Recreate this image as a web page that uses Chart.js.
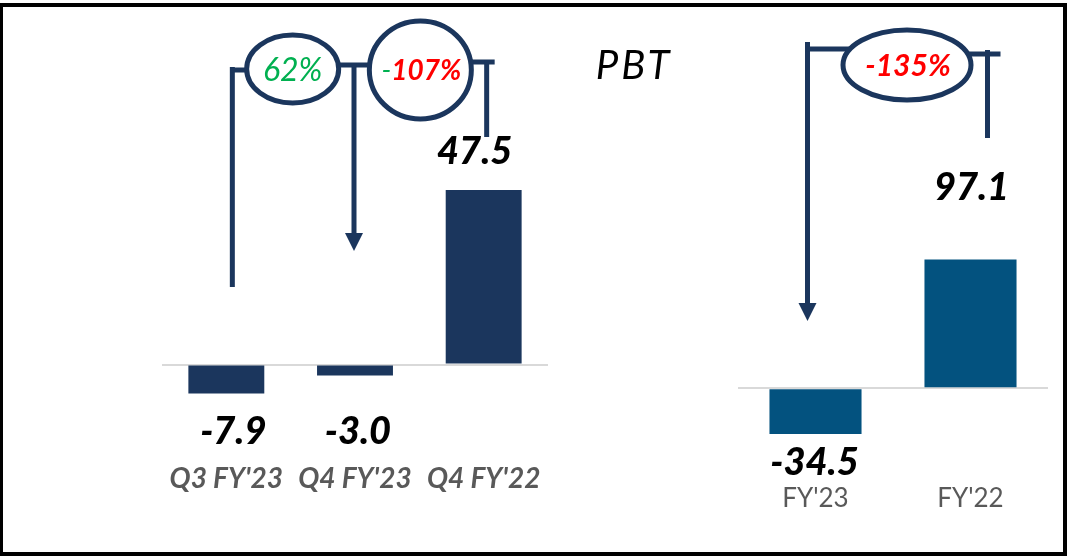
<!DOCTYPE html>
<html>
<head>
<meta charset="utf-8">
<script src="https://cdn.jsdelivr.net/npm/chart.js@4.4.0/dist/chart.umd.min.js"></script>
<style>
html, body { margin: 0; padding: 0; background: #fff; }
#wrap { position: relative; width: 1072px; height: 556px; overflow: hidden; }
#wrap canvas { position: absolute; left: 0; top: 0; }
#frame { position: absolute; left: 0; top: 3px; width: 1067px; height: 553px; box-sizing: border-box;
  border: 4px solid #000; border-left-width: 3px; pointer-events: none; }
#ttl { position: absolute; left: 534px; width: 200px; top: 40px; text-align: center;
  font: italic 400 40px Lato, sans-serif; letter-spacing: 3px; color: #000; }
</style>
</head>
<body>
<div id="wrap">
  <canvas id="qChart" width="1072" height="556"></canvas>
  <canvas id="fyChart" width="1072" height="556"></canvas>
  <div id="ttl"></div>
  <div id="frame"></div>
</div>
<script>
// data
const titleText = 'PBT';
const qLabels = ["Q3 FY'23", "Q4 FY'23", "Q4 FY'22"];
const qPbt = [-7.9, -3.0, 47.5];
const qChange = ['62%', '-107%'];
const fyLabels = ["FY'23", "FY'22"];
const fyPbt = [-34.5, 97.1];
const fyChange = ['-135%'];

const NAVY = '#1B365D';
const BLUE = '#03527F';
const GREEN = '#00B050';
const RED = '#FF0000';
const GRAY = '#595959';
const FONT = 'Lato, sans-serif';

document.getElementById('ttl').textContent = titleText;

function line(ctx, x1, y1, x2, y2) {
  ctx.beginPath();
  ctx.moveTo(x1, y1);
  ctx.lineTo(x2, y2);
  ctx.stroke();
}

function arrowDown(ctx, x, yTop, yTip) {
  line(ctx, x, yTop, x, yTip - 16);
  ctx.beginPath();
  ctx.moveTo(x - 9, yTip - 18);
  ctx.lineTo(x + 9, yTip - 18);
  ctx.lineTo(x, yTip);
  ctx.closePath();
  ctx.fill();
}

function oval(ctx, cx, cy, rx, ry) {
  ctx.beginPath();
  ctx.ellipse(cx, cy, rx, ry, 0, 0, Math.PI * 2);
  ctx.fillStyle = '#fff';
  ctx.fill();
  ctx.stroke();
  ctx.fillStyle = NAVY;
}

// parts: [text, color, font]
function badgeText(ctx, parts, cx, cy) {
  let total = 0;
  parts.forEach(p => { ctx.font = p[2]; total += ctx.measureText(p[0]).width; });
  let x = cx - total / 2;
  ctx.textBaseline = 'middle';
  ctx.textAlign = 'left';
  parts.forEach(p => {
    ctx.font = p[2];
    ctx.fillStyle = p[1];
    ctx.fillText(p[0], x, cy);
    x += ctx.measureText(p[0]).width;
  });
}

function drawQDecor(ctx, xs) {
  const c0 = xs.getPixelForValue(0), c1 = xs.getPixelForValue(1), c2 = xs.getPixelForValue(2);
  const m01 = (c0 + c1) / 2, m12 = (c1 + c2) / 2;
  ctx.strokeStyle = NAVY;
  ctx.fillStyle = NAVY;
  ctx.lineWidth = 5;
  line(ctx, c0 + 6, 287, c0 + 6, 67);
  line(ctx, c0 + 4, 70, m01, 70);
  line(ctx, m01, 65, m12, 65);
  arrowDown(ctx, c1 - 1, 63, 251);
  line(ctx, m12, 62, c2 + 11, 62);
  line(ctx, c2 + 3, 60, c2 + 3, 137);
  oval(ctx, m01 + 2, 69, 46, 34);
  oval(ctx, m12 + 1, 70, 51, 49);
  badgeText(ctx, [[qChange[0], GREEN, 'italic 400 32px ' + FONT]], m01 + 2, 71);
  badgeText(ctx, [[qChange[1].slice(0, 1), GREEN, 'italic 400 28px ' + FONT],
                  [qChange[1].slice(1), RED, 'italic 700 28px ' + FONT]], m12 + 2, 71);
}

function drawFyDecor(ctx, xs) {
  const c0 = xs.getPixelForValue(0), c1 = xs.getPixelForValue(1);
  const mid = (c0 + c1) / 2 + 14;
  ctx.strokeStyle = NAVY;
  ctx.fillStyle = NAVY;
  ctx.lineWidth = 5;
  arrowDown(ctx, c0 - 8, 42, 321);
  line(ctx, c0 - 10, 49, mid, 49);
  line(ctx, mid, 54, c1 + 30, 54);
  line(ctx, c1 + 17, 50, c1 + 17, 138);
  oval(ctx, mid, 65, 64, 35);
  badgeText(ctx, [[fyChange[0], RED, 'italic 700 30px ' + FONT]], mid + 1, 66);
}

const decorPlugin = {
  id: 'decor',
  afterDatasetsDraw(chart, args, opts) {
    const ctx = chart.ctx;
    const xs = chart.scales.x;
    ctx.save();
    // value labels
    ctx.textAlign = 'center';
    ctx.textBaseline = 'middle';
    ctx.fillStyle = '#000';
    ctx.font = opts.valueFont;
    chart.data.datasets[0].data.forEach((v, i) => {
      ctx.fillText(v.toFixed(1), xs.getPixelForValue(i) + opts.labelDx[i], opts.labelY[i]);
    });
    opts.drawDecor(ctx, xs);
    ctx.restore();
  }
};

function makeChart(id, labels, values, color, cfg) {
  return new Chart(document.getElementById(id), {
    type: 'bar',
    data: {
      labels: labels,
      datasets: [{
        data: values,
        backgroundColor: color,
        borderWidth: 0,
        barPercentage: cfg.barPct,
        categoryPercentage: 1
      }]
    },
    options: {
      responsive: false,
      devicePixelRatio: 1,
      animation: false,
      layout: { padding: cfg.padding },
      plugins: {
        legend: { display: false },
        tooltip: { enabled: false },
        decor: {
          valueFont: cfg.valueFont,
          labelDx: cfg.labelDx,
          labelY: cfg.labelY,
          drawDecor: cfg.drawDecor
        }
      },
      scales: {
        x: {
          grid: { display: false, drawTicks: false, tickLength: 0 },
          border: { display: false },
          ticks: { color: GRAY, font: cfg.tickFont, padding: cfg.tickPad, maxRotation: 0 }
        },
        y: {
          min: cfg.min,
          max: cfg.max,
          grid: {
            drawTicks: false,
            lineWidth: 2,
            color: c => c.tick && c.tick.value === 0 ? '#D9D9D9' : 'rgba(0,0,0,0)'
          },
          border: { display: false },
          ticks: { display: false, stepSize: cfg.step }
        }
      }
    },
    plugins: [decorPlugin]
  });
}

makeChart('qChart', qLabels, qPbt, NAVY, {
  barPct: 0.59,
  min: -25, max: 60, step: 5,
  padding: { left: 162, right: 524, top: 144, bottom: 54 },
  tickFont: { family: FONT, size: 28, style: 'italic', weight: 'bold' },
  tickPad: 6,
  valueFont: 'italic 900 38px ' + FONT,
  labelDx: [7, 3, -9],
  labelY: [432, 432, 152],
  drawDecor: drawQDecor
});

makeChart('fyChart', fyLabels, fyPbt, BLUE, {
  barPct: 0.594,
  min: -60, max: 120, step: 20,
  padding: { left: 738, right: 24, top: 229, bottom: 27 },
  tickFont: { family: FONT, size: 26, weight: 'normal' },
  tickPad: 15,
  valueFont: 'italic 900 38px ' + FONT,
  labelDx: [-1, 1],
  labelY: [463, 188],
  drawDecor: drawFyDecor
});
</script>
</body>
</html>
